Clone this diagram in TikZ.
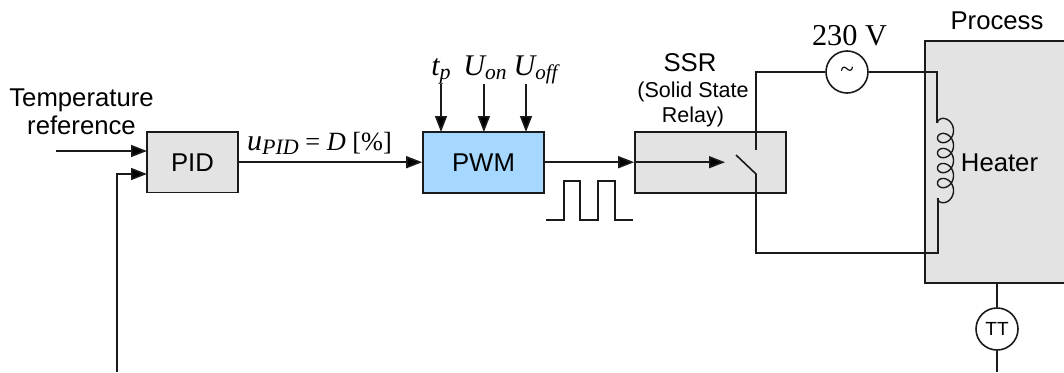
\documentclass[tikz,border=0pt]{standalone}
\usepackage{fontspec}
\setmainfont{Liberation Sans}
\newfontfamily\serifit{Liberation Serif}
\usetikzlibrary{arrows.meta}
\definecolor{boxgrey}{HTML}{E3E3E3}
\definecolor{boxblue}{HTML}{A6D8FF}
\definecolor{ink}{HTML}{1A1A1A}
\newcommand{\fs}[1]{\fontsize{#1}{#1}\selectfont}
\newcommand{\mi}[2]{{\serifit\fs{#1}\itshape #2}}
\tikzset{
  x=1pt,y=-1pt,
  wire/.style={draw=ink,line width=1.6pt},
  sig/.style={wire,-{Triangle[length=16pt,width=12pt,fill=black]}},
  block/.style={draw=ink,line width=1.6pt,fill=boxgrey,minimum width=#1,minimum height=60.5pt,inner sep=0pt,font=\fs{25.7}},
  disc/.style={circle,draw=ink,line width=1.6pt,fill=white,minimum size=42pt,inner sep=0pt},
  lbl/.style={inner sep=0pt,align=center,text=black,font=\fs{25.7}},
  mlbl/.style={inner sep=0pt,text=black},
}
\begin{document}
\begin{tikzpicture}
\useasboundingbox (0,0) rectangle (1064,372);
% process block (open on the right, clipped by the picture)
\path[fill=boxgrey] (925,41) rectangle (1064,283);
\node[lbl] (proc) at (997,21) {Process};
\coordinate (pTL) at (925,41);
\coordinate (pBL) at (925,283);
\coordinate (pTR) at (1064,41);
\coordinate (pBR) at (1064,283);
\draw[wire] (pTR) -- (pTL) -- (pBL) -- (pBR);
% blocks
\node[block=91pt] (pid) at (192.5,162.2) {PID};
\node[block=121pt,fill=boxblue] (pwm) at (483.5,162.5) {PWM};
\node[block=151pt] (ssr) at (710.5,162.5) {};
% circles
\node[disc,font=\serifit\fs{25}] (src) at (847,72) {\char"7E};
\node[disc,font=\fs{19}] (tt) at (997,329) {TT};
% labels
\node[lbl] (tref) at (81.5,112) {Temperature\\[2pt]reference};
\node[lbl] (ssrt) at (690,63) {SSR};
\node[inner sep=0pt,align=center,font=\fs{21.5}] (ssrs) at (693,104) {(Solid State\\[3.5pt]Relay)};
\node[inner sep=0pt,font=\serifit\fs{30.3}] (volt) at (849.5,36) {230 V};
\node[lbl] (heat) at (999.5,163) {Heater};
\node[mlbl,anchor=base] (tp) at (441,75) {\mi{30}{t}\mi{22}{\raisebox{-4pt}{p}}};
\node[mlbl,anchor=base] (uon) at (485,75) {\mi{30}{U}\mi{21.5}{\raisebox{-4pt}{on}}};
\node[mlbl,anchor=base] (uoff) at (535.5,75) {\mi{30}{U}\mi{21}{\raisebox{-4pt}{off}}};
\node[mlbl,anchor=base west] (upid) at (247,150) {\mi{30}{u}\mi{22}{\raisebox{-4pt}{PID}}\serifit\fs{26.3}\ = \itshape D\upshape\ [\%]};
% coordinates
\coordinate (refin) at (56,151);
\coordinate (refend) at (147,151);
\coordinate (fbstart) at (117,372);
\coordinate (fbc) at (117,174);
\coordinate (fbend) at (147,174);
\coordinate (tp0) at (441,84);\coordinate (tp1) at (441,132);
\coordinate (on0) at (483.9,84);\coordinate (on1) at (483.9,132);
\coordinate (of0) at (526,84);\coordinate (of1) at (526,132);
\coordinate (relayin) at (725,162.2);
\coordinate (swtop) at (756,150);
\coordinate (swc) at (756,72);
\coordinate (swa) at (736,155);
\coordinate (swb) at (756,174);
\coordinate (c1) at (937,72);
\coordinate (c2) at (938,253);
\coordinate (c3) at (756,253);
\coordinate (ttbot) at (997,372);
\coordinate (procb) at (997,283);
% connectors
\draw[sig] (refin) -- (refend);
\draw[sig] (fbstart) -- (fbc) -- (fbend);
\draw[sig] (pid.east |- 0,162.2) -- (pwm.west |- 0,162.2);
\draw[sig] (tp0) -- (tp1);
\draw[sig] (on0) -- (on1);
\draw[sig] (of0) -- (of1);
\draw[sig] (pwm.east |- 0,162.2) -- (ssr.west |- 0,162.2);
\draw[sig] (ssr.west |- 0,162.2) -- (relayin);
\draw[wire] (swtop) -- (swc) -- (src.west);
\draw[wire] (swa) -- (swb) -- (c3) -- (c2) -- (938,198);
\draw[wire] (src.east) -- (c1) -- (937,123);
% coil
\draw[draw=ink,line width=1.4pt,line join=round]
  plot[variable=\t,domain=180:1980,samples=240,smooth]
  ({945.5+8*cos(\t)},{115.5+2.39*\t*pi/180+8*sin(\t)});
\draw[wire] (tt.north) -- (procb);
\draw[wire] (tt.south) -- (ttbot);
% pulse train
\coordinate (p0) at (546,220);
\coordinate (p5) at (633,220);
\draw[wire,line width=1.3pt] (p0) -- (564,220) -- (564,181) -- (580,181) -- (580,220) -- (598,220) -- (598,181) -- (615,181) -- (615,220) -- (p5);
\end{tikzpicture}
\end{document}
